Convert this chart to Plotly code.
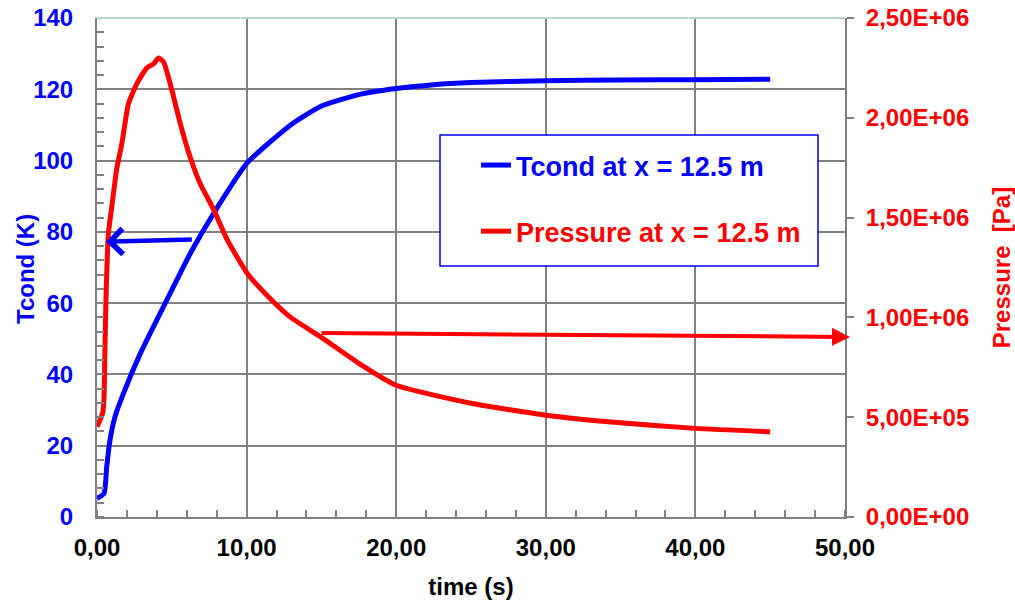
import plotly.graph_objects as go

# ---- data ----
time_T = [0, 0.47, 0.65, 0.87, 1.2, 1.77, 2.9, 4.67, 6.24, 7.8, 10.05, 12.95,
          15, 17.5, 20, 22.5, 25, 30, 35, 40, 45]
tcond = [5.2, 6.6, 14.1, 21.6, 28.1, 34.7, 45.9, 60.9, 74.0, 85.2, 99.4, 110.0,
         115.3, 118.5, 120.2, 121.3, 121.9, 122.4, 122.6, 122.7, 122.8]

time_P = [0, 0.38, 0.47, 0.53, 0.6, 0.76, 1.0, 1.31, 1.66, 2.1, 2.66, 3.33, 3.78,
          4.11, 4.45, 5.0, 5.57, 6.24, 6.9, 7.8, 8.7, 10.05, 11.5, 12.95, 15,
          17.5, 20, 25, 30, 35, 40, 45]
pressure = [4.52e5, 5.2e5, 6.0e5, 8.4e5, 1.09e6, 1.42e6, 1.56e6, 1.74e6, 1.87e6,
            2.07e6, 2.17e6, 2.25e6, 2.27e6, 2.30e6, 2.28e6, 2.14e6, 1.97e6, 1.80e6,
            1.67e6, 1.54e6, 1.39e6, 1.22e6, 1.10e6, 1.00e6, 9.0e5, 7.7e5, 6.6e5,
            5.7e5, 5.1e5, 4.72e5, 4.44e5, 4.27e5]

x_ticks = [0, 10, 20, 30, 40, 50]
x_tick_labels = ["0,00", "10,00", "20,00", "30,00", "40,00", "50,00"]
t_ticks = [0, 20, 40, 60, 80, 100, 120, 140]
p_ticks = [0, 5e5, 1e6, 1.5e6, 2e6, 2.5e6]
p_tick_labels = ["0,00E+00", "5,00E+05", "1,00E+06", "1,50E+06", "2,00E+06", "2,50E+06"]

name_T = "Tcond at x = 12.5 m"
name_P = "Pressure at x = 12.5 m"
title_T = "Tcond (K)"

BLUE = "#0000ff"
RED = "#ff0000"
GRID = "#808080"
FONT = "Liberation Sans, Arial, sans-serif"

# figure fills the whole page (body margin removed by post_script below)
FW, FH = 1015, 600
L, R, T, B = 97, 845, 18, 517   # plot area in page pixels
PW, PH = R - L, B - T

fig = go.Figure()
fig.add_trace(go.Scatter(
    x=time_T, y=tcond, mode="lines", name=f"<span style='color:{BLUE}'>{name_T}</span>",
    line=dict(color=BLUE, width=5, shape="spline", smoothing=0.5), legendgroup="t"))
fig.add_trace(go.Scatter(
    x=time_P, y=pressure, mode="lines", yaxis="y2",
    name=f"<span style='color:{RED}'>{name_P}</span>",
    line=dict(color=RED, width=5, shape="spline", smoothing=0.5), legendgroup="p"))

fig.update_layout(
    width=FW, height=FH, autosize=False,
    margin=dict(l=L, r=FW - R, t=T, b=FH - B, pad=0),
    paper_bgcolor="white",
    plot_bgcolor="white",
    font=dict(family=FONT, size=24, color="black", weight="bold"),
    showlegend=True,
    legend=dict(
        x=(476 - L) / PW, y=(B - 141) / PH, xanchor="left", yanchor="top",
        bgcolor="rgba(0,0,0,0)", borderwidth=0,
        font=dict(family=FONT, size=27, weight="bold"),
        tracegroupgap=28,
    ),
    xaxis=dict(
        range=[0, 50], tickvals=x_ticks, ticktext=x_tick_labels, automargin=False,
        ticklabeloverflow="allow",
        showgrid=True, gridcolor=GRID, gridwidth=1.5,
        showline=True, linecolor=GRID, linewidth=2,
        ticks="", ticklabelstandoff=8, zeroline=False,
        minor=dict(dtick=2, ticks="inside", ticklen=7, tickcolor=GRID, tickwidth=1.5, showgrid=False),
        tickfont=dict(size=24, color="black", weight="bold"),
        title=dict(text="time (s)", font=dict(size=24, color="black", weight="bold"), standoff=20),
    ),
    yaxis=dict(
        range=[0, 140], tickvals=t_ticks, automargin=False,
        ticklabeloverflow="allow",
        showgrid=True, gridcolor=GRID, gridwidth=1.5,
        showline=True, linecolor=GRID, linewidth=2,
        ticks="", ticklabelstandoff=17, zeroline=False,
        minor=dict(dtick=4, ticks="inside", ticklen=7, tickcolor=GRID, tickwidth=1.5, showgrid=False),
        tickfont=dict(size=24, color=BLUE, weight="bold"),
    ),
    yaxis2=dict(
        range=[0, 2.5e6], tickvals=p_ticks, ticktext=p_tick_labels, automargin=False,
        ticklabeloverflow="allow",
        overlaying="y", side="right", showgrid=False,
        showline=True, linecolor=GRID, linewidth=2,
        ticks="outside", ticklen=7, tickcolor=GRID, tickwidth=1.5,
        ticklabelstandoff=7, zeroline=False,
        tickfont=dict(size=24, color=RED, weight="bold"),
        title=dict(text="Pressure  [Pa]", font=dict(size=24, color=RED, weight="bold"), standoff=40),
    ),
    shapes=[
        dict(type="line", xref="paper", yref="paper", x0=0, x1=1, y0=1, y1=1,
             line=dict(color="#b8d4d8", width=2)),
        dict(type="rect", xref="paper", yref="paper",
             x0=(440 - L) / PW, x1=(818 - L) / PW,
             y0=(B - 266) / PH, y1=(B - 135) / PH,
             line=dict(color=BLUE, width=1.5), fillcolor="white", layer="above"),
    ],
    annotations=[
        dict(text=title_T, xref="paper", yref="paper", x=(25 - L) / PW, y=(B - 269) / PH,
             xanchor="center", yanchor="middle", textangle=-90, showarrow=False,
             font=dict(family=FONT, size=24, color=BLUE, weight="bold")),
        dict(x=0.6, y=77.2, xref="x", yref="y", ax=6.44, ay=77.9, axref="x", ayref="y",
             showarrow=True, arrowhead=4, arrowsize=1.1, arrowwidth=4.5, arrowcolor=BLUE, text=""),
        dict(x=(850 - L) / PW, y=0.902e6, xref="paper", yref="y2", ax=-530, ay=-4,
             showarrow=True, arrowhead=2, arrowsize=0.9, arrowwidth=4, arrowcolor=RED, text=""),
    ],
)

fig.write_html(
    "out.html",
    config={"displayModeBar": False},
    post_script="document.body.style.margin='0';document.body.style.overflow='hidden';",
)
